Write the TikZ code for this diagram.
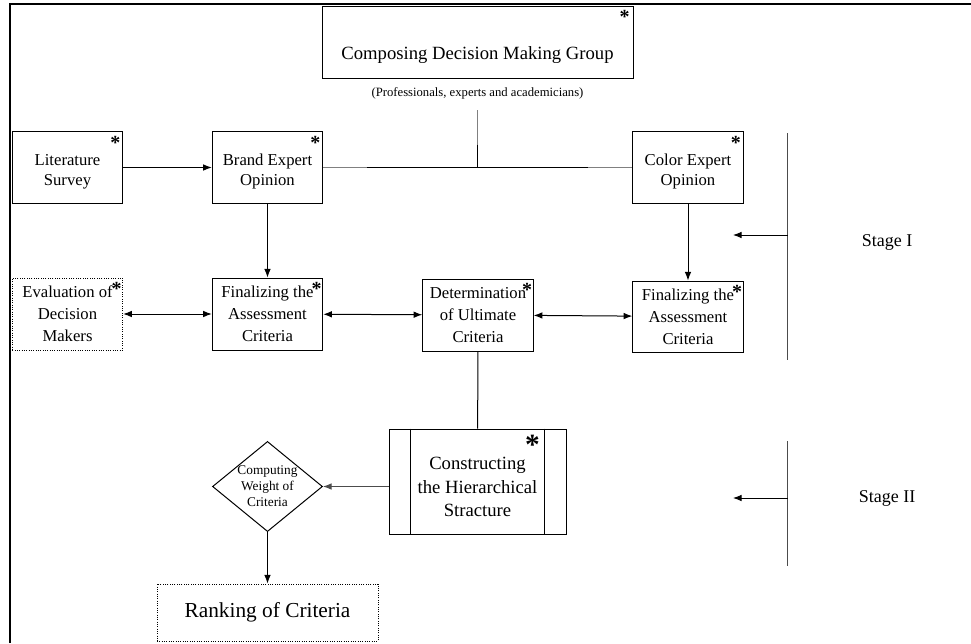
\documentclass[tikz,border=0pt]{standalone}
\usepackage{fontspec}
\setmainfont{Liberation Serif}
\usetikzlibrary{arrows.meta}
\usetikzlibrary{shapes.geometric}

\newcommand{\lowerby}{\rule{0pt}{14.5pt}}

\tikzset{
  box/.style={draw, line width=.75pt, align=center, inner sep=1pt,
    minimum width=82.9pt, minimum height=54pt, font=\fontsize{12.5}{15}\selectfont},
  lowbox/.style={box, font=\fontsize{12.5}{16.5}\selectfont},
  astmark/.style={inner sep=0pt, font=\fontsize{15}{15}\bfseries\selectfont},
  stagelabel/.style={font=\fontsize{13.5}{15}\selectfont},
  link/.style={line width=.75pt},
  heavy/.style={line width=1.2pt},
}

\begin{document}
\begin{tikzpicture}[x=.75pt, y=-.75pt, >={Latex[length=6.5pt, width=5pt]}]
\useasboundingbox (0,0) rectangle (971,643);
\draw[line width=1.5pt] (10,643) -- (10,4) -- (971,4);

% group of decision makers
\node[box, minimum width=233.25pt, minimum height=53.7pt, font=\fontsize{14}{16}\selectfont]
  (group) at (477.5,42.5) {\rule{0pt}{28pt}Composing Decision Making Group};
\node[font=\fontsize{9.5}{11}\selectfont] (members) at (477.5,93) {(Professionals, experts and academicians)};

% stage I
\node[box] (survey) at (67.5,167.5) {\lowerby Literature\\Survey};
\node[box] (brand) at (267.5,167.5) {\lowerby Brand Expert\\Opinion};
\node[box] (color) at (688,167.5) {\lowerby Color Expert\\Opinion};

\node[lowbox, densely dotted] (evaluation) at (67.5,314) {Evaluation of\\Decision\\Makers};
\node[lowbox] (final-brand) at (267.5,314) {Finalizing the\\Assessment\\Criteria};
\node[lowbox] (ultimate) at (478,315) {Determination\\of Ultimate\\Criteria};
\node[lowbox, minimum height=53.25pt] (final-color) at (688,316.5) {Finalizing the\\Assessment\\Criteria};

% stage II
\node[box, minimum width=132.75pt, minimum height=78.75pt, font=\fontsize{14}{17.6}\selectfont]
  (hierarchy) at (477.5,481.5) {\rule{0pt}{18pt}Constructing\\the Hierarchical\\Stracture};
\draw[link] ([xshift=16.5pt]hierarchy.north west) -- ([xshift=16.5pt]hierarchy.south west);
\draw[link] ([xshift=-16.5pt]hierarchy.north east) -- ([xshift=-16.5pt]hierarchy.south east);
\node[diamond, draw, link, aspect=1.22, inner sep=0pt, align=center, font=\fontsize{10}{12}\selectfont]
  (weight) at (267.5,486.5) {Computing\\Weight of\\Criteria};
\node[box, densely dotted, minimum width=165.75pt, minimum height=42.75pt, font=\fontsize{16}{18}\selectfont]
  (ranking) at (267.5,612.5) {Ranking of Criteria};

% asterisks
\node[astmark] (group-ast) at ([xshift=-6.75pt,yshift=-8pt]group.north east) {*};
\foreach \n in {survey, brand, color}
  \node[astmark] (\n-ast) at ([xshift=-6pt,yshift=-9pt]\n.north east) {*};
\foreach \n in {evaluation, final-brand, ultimate, final-color}
  \node[astmark] (\n-ast) at ([xshift=-5pt,yshift=-8.5pt]\n.north east) {*};
\node[astmark, font=\fontsize{22}{22}\bfseries\selectfont] (hierarchy-ast) at ([xshift=-25.5pt,yshift=-12.5pt]hierarchy.north east) {*};

% connectors
\coordinate (tee) at (members.south |- brand.east);
\draw[link, ->] (survey) -- (brand);
\draw[link, gray] (brand) -- (color);
\draw[heavy] ([xshift=-82.9pt]tee) -- ([xshift=82.9pt]tee);
\draw[link, gray] ([yshift=-5pt]members.south) -- (tee);
\draw[heavy] ([yshift=17.25pt]tee) -- (tee);
\draw[link, ->] (brand) -- (final-brand);
\draw[link, ->] (color) -- (final-color);
\draw[link, <->] (evaluation) -- (final-brand);
\draw[link, <->] (final-brand) -- (ultimate);
\draw[link, <->] (ultimate) -- (final-color);
\draw[link] (ultimate) -- (hierarchy);
\draw[link, gray!60!black, ->] (hierarchy.west |- weight.east) -- (weight.east);
\draw[link, ->] (weight) -- (ranking);

% stage markers
\coordinate (one-top) at (787.5,133);
\coordinate (one-bot) at (787.5,360);
\coordinate (one-tip) at (733,235);
\coordinate (two-top) at (787.5,441);
\coordinate (two-bot) at (787.5,566);
\coordinate (two-tip) at (733,498);
\draw[link, gray!60!black] (one-top) -- (one-bot);
\draw[link, gray!60!black] (two-top) -- (two-bot);
\draw[link, ->] (one-top |- one-tip) -- (one-tip);
\draw[link, ->] (two-top |- two-tip) -- (two-tip);
\node[stagelabel] (stage-one) at (887,242) {Stage I};
\node[stagelabel] (stage-two) at (887,498) {Stage II};
\end{tikzpicture}
\end{document}
